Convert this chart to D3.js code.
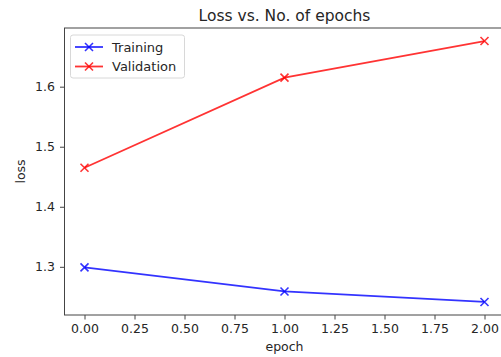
<!DOCTYPE html>
<html>
<head>
<meta charset="utf-8">
<script src="https://cdn.jsdelivr.net/npm/d3@7"></script>
<style>
  body { margin: 0; background: #fff; }
  text { font-family: "DejaVu Sans", sans-serif; fill: #262626; }
</style>
</head>
<body>
<div id="chart"></div>
<script>
// values
var epochs = [0, 1, 2];
var trainLoss = [1.299, 1.259, 1.2415];
var valLoss = [1.465, 1.615, 1.676];
var xTicks = [0, 0.25, 0.5, 0.75, 1, 1.25, 1.5, 1.75, 2];
var yTicks = [1.3, 1.4, 1.5, 1.6];
var seriesNames = ["Training", "Validation"];
var seriesColors = ["blue", "red"];

var width = 501, height = 357;
var plotLeft = 64.5, plotRight = 504.5, plotTop = 28, plotBottom = 315;

var svg = d3.select("#chart").append("svg")
  .attr("width", width)
  .attr("height", height);

var x = d3.scaleLinear().domain([-0.1, 2.1]).range([plotLeft, plotRight]);
var allY = trainLoss.concat(valLoss);
var yMin = d3.min(allY), yMax = d3.max(allY), pad = (yMax - yMin) * 0.05;
var y = d3.scaleLinear().domain([yMin - pad, yMax + pad]).range([plotBottom, plotTop]);

// axes
var xAxis = svg.append("g")
  .attr("transform", "translate(0," + plotBottom + ")")
  .call(d3.axisBottom(x).tickValues(xTicks).tickFormat(d3.format(".2f")).tickSize(4.5).tickPadding(5));
var yAxis = svg.append("g")
  .attr("transform", "translate(" + plotLeft + ",0)")
  .call(d3.axisLeft(y).tickValues(yTicks).tickFormat(d3.format(".1f")).tickSize(4.5).tickPadding(5));

[xAxis, yAxis].forEach(function(g) {
  g.select(".domain").remove();
  g.selectAll("line").attr("stroke", "#444").attr("stroke-width", 1);
  g.selectAll("text").style("font-size", "12.5px").attr("fill", "#333");
});

// spines
svg.append("rect")
  .attr("x", plotLeft).attr("y", plotTop)
  .attr("width", plotRight - plotLeft).attr("height", plotBottom - plotTop)
  .attr("fill", "none").attr("stroke", "#444").attr("stroke-width", 1);

var line = d3.line()
  .x(function(d) { return x(d[0]); })
  .y(function(d) { return y(d[1]); });

function drawSeries(vals, color) {
  var pts = epochs.map(function(e, i) { return [e, vals[i]]; });
  svg.append("path")
    .datum(pts)
    .attr("d", line)
    .attr("fill", "none")
    .attr("stroke", color)
    .attr("stroke-opacity", 0.8)
    .attr("stroke-width", 1.8);
  svg.selectAll(null)
    .data(pts)
    .enter().append("path")
    .attr("transform", function(d) { return "translate(" + x(d[0]) + "," + y(d[1]) + ")"; })
    .attr("d", "M-4,-4L4,4M-4,4L4,-4")
    .attr("stroke", color)
    .attr("stroke-opacity", 0.8)
    .attr("stroke-width", 1.6);
}
drawSeries(trainLoss, seriesColors[0]);
drawSeries(valLoss, seriesColors[1]);

// legend
var legend = svg.append("g");
legend.append("rect")
  .attr("x", 70.5).attr("y", 35)
  .attr("width", 114).attr("height", 43)
  .attr("rx", 2.5)
  .attr("fill", "#fff").attr("fill-opacity", 0.8)
  .attr("stroke", "#d8d8d8").attr("stroke-width", 1);
seriesNames.forEach(function(name, i) {
  var ly = 47 + i * 19.5;
  legend.append("line")
    .attr("x1", 75).attr("x2", 103).attr("y1", ly).attr("y2", ly)
    .attr("stroke", seriesColors[i]).attr("stroke-opacity", 0.8).attr("stroke-width", 1.8);
  legend.append("path")
    .attr("transform", "translate(89," + ly + ")")
    .attr("d", "M-4,-4L4,4M-4,4L4,-4")
    .attr("stroke", seriesColors[i]).attr("stroke-opacity", 0.8).attr("stroke-width", 1.6);
  legend.append("text")
    .attr("x", 112).attr("y", ly + 4.5)
    .style("font-size", "13px")
    .text(name);
});

// labels
svg.append("text")
  .attr("x", (plotLeft + plotRight) / 2).attr("y", 21)
  .attr("text-anchor", "middle")
  .style("font-size", "15.5px")
  .text("Loss vs. No. of epochs");
svg.append("text")
  .attr("x", (plotLeft + plotRight) / 2).attr("y", 351)
  .attr("text-anchor", "middle")
  .style("font-size", "12.5px")
  .text("epoch");
svg.append("text")
  .attr("transform", "translate(25," + (plotTop + plotBottom) / 2 + ") rotate(-90)")
  .attr("text-anchor", "middle")
  .style("font-size", "12.5px")
  .text("loss");
</script>
</body>
</html>
